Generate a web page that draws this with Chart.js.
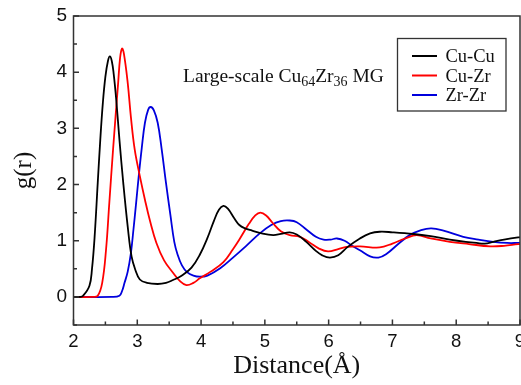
<!DOCTYPE html>
<html>
<head>
<meta charset="utf-8">
<script src="https://cdn.jsdelivr.net/npm/chart.js@4/dist/chart.umd.min.js"></script>
<style>
  html, body { margin: 0; padding: 0; background: #fff; }
  #wrap { width: 521px; height: 385px; }
</style>
</head>
<body>
<div id="wrap"><canvas id="rdf"></canvas></div>
<script>
// values
const cuCuR = [2.0, 2.1, 2.15, 2.25, 2.29, 2.33, 2.38, 2.42, 2.46, 2.50, 2.54, 2.57, 2.60, 2.63, 2.67, 2.72, 2.78, 2.85, 2.91, 2.97, 3.04, 3.15, 3.32, 3.45, 3.56, 3.7, 3.85, 3.98, 4.1, 4.2, 4.28, 4.35, 4.42, 4.52, 4.6, 4.69, 4.8, 4.95, 5.13, 5.25, 5.39, 5.5, 5.65, 5.8, 5.9, 6.02, 6.15, 6.3, 6.49, 6.65, 6.8, 7.0, 7.33, 7.6, 7.9, 8.15, 8.32, 8.45, 8.58, 8.75, 8.97, 9.0];
const cuCuG = [0, 0, 0.02, 0.2, 0.5, 1.05, 2.03, 2.8, 3.45, 3.92, 4.2, 4.28, 4.2, 3.97, 3.51, 2.8, 2.03, 1.25, 0.72, 0.48, 0.31, 0.25, 0.23, 0.25, 0.30, 0.38, 0.52, 0.75, 1.05, 1.35, 1.55, 1.62, 1.57, 1.40, 1.28, 1.22, 1.18, 1.13, 1.10, 1.12, 1.15, 1.11, 0.98, 0.82, 0.74, 0.70, 0.74, 0.89, 1.04, 1.13, 1.16, 1.15, 1.12, 1.08, 1.02, 0.98, 0.96, 0.95, 0.98, 1.02, 1.06, 1.06];

const cuZrR = [2.0, 2.3, 2.38, 2.45, 2.51, 2.56, 2.62, 2.70, 2.73, 2.76, 2.79, 2.85, 2.90, 2.96, 3.04, 3.12, 3.20, 3.30, 3.42, 3.56, 3.67, 3.77, 3.88, 3.98, 4.15, 4.35, 4.5, 4.61, 4.75, 4.85, 4.93, 5.02, 5.12, 5.25, 5.39, 5.55, 5.7, 5.85, 5.99, 6.15, 6.28, 6.49, 6.8, 7.0, 7.2, 7.38, 7.6, 7.9, 8.2, 8.53, 8.75, 8.97, 9.0];
const cuZrG = [0, 0, 0.02, 0.25, 0.84, 1.65, 2.62, 3.81, 4.25, 4.42, 4.33, 3.81, 3.2, 2.62, 2.15, 1.73, 1.35, 0.96, 0.65, 0.43, 0.28, 0.21, 0.25, 0.33, 0.45, 0.62, 0.85, 1.04, 1.30, 1.45, 1.50, 1.45, 1.32, 1.17, 1.10, 1.07, 0.97, 0.86, 0.81, 0.85, 0.89, 0.90, 0.88, 0.95, 1.04, 1.10, 1.04, 0.98, 0.94, 0.90, 0.91, 0.94, 0.94];

const zrZrR = [2.0, 2.6, 2.72, 2.76, 2.80, 2.85, 2.90, 2.94, 2.98, 3.02, 3.07, 3.12, 3.17, 3.21, 3.26, 3.32, 3.38, 3.45, 3.52, 3.58, 3.63, 3.70, 3.78, 3.88, 3.98, 4.1, 4.3, 4.5, 4.7, 4.92, 5.1, 5.25, 5.39, 5.5, 5.65, 5.8, 5.92, 6.03, 6.13, 6.25, 6.38, 6.49, 6.65, 6.78, 6.9, 7.1, 7.27, 7.45, 7.61, 7.8, 8.11, 8.35, 8.58, 8.8, 8.97, 9.0];
const zrZrG = [0, 0, 0.02, 0.1, 0.25, 0.45, 0.78, 1.2, 1.65, 2.12, 2.65, 3.10, 3.33, 3.38, 3.32, 3.10, 2.65, 2.03, 1.45, 0.98, 0.76, 0.56, 0.44, 0.38, 0.36, 0.38, 0.51, 0.70, 0.90, 1.13, 1.28, 1.35, 1.36, 1.33, 1.20, 1.07, 1.02, 1.02, 1.04, 1.00, 0.90, 0.83, 0.72, 0.70, 0.76, 0.95, 1.10, 1.19, 1.22, 1.18, 1.07, 1.02, 0.98, 0.96, 0.96, 0.96];

const seriesNames = ['Cu-Cu', 'Cu-Zr', 'Zr-Zr'];
const seriesColors = ['#000000', '#ff0000', '#0000dd'];
const xTicks = [2, 3, 4, 5, 6, 7, 8, 9];
const yTicks = [0, 1, 2, 3, 4, 5];

const pts = (r, g) => r.map((v, i) => ({ x: v, y: g[i] }));
const serif = "'Liberation Serif', 'DejaVu Serif', serif";
const sans = "'Liberation Sans', Arial, sans-serif";
const axisColor = '#333';

// frame, inward ticks, text note and legend
const decor = {
    id: 'decor',
    afterDraw(chart) {
        const { ctx, chartArea: a, scales: { x, y } } = chart;
        ctx.save();
        ctx.strokeStyle = axisColor;
        ctx.lineWidth = 1.5;
        ctx.strokeRect(a.left, a.top, a.right - a.left, a.bottom - a.top);
        ctx.beginPath();
        for (let v = 2; v <= 9.001; v += 0.5) {
            const px = x.getPixelForValue(v), len = Number.isInteger(v) ? 5.5 : 3.5;
            ctx.moveTo(px, a.bottom); ctx.lineTo(px, a.bottom - len);
        }
        for (let v = -0.5; v <= 5.001; v += 0.5) {
            const py = y.getPixelForValue(v), len = Number.isInteger(v) ? 5.5 : 3.5;
            ctx.moveTo(a.left, py); ctx.lineTo(a.left + len, py);
        }
        ctx.stroke();

        // Large-scale Cu64Zr36 MG
        ctx.fillStyle = '#111';
        ctx.textBaseline = 'alphabetic';
        let tx = 183;
        const by = 81.5;
        const parts = [['Large-scale Cu', 0], ['64', 1], ['Zr', 0], ['36', 1], [' MG', 0]];
        parts.forEach(([t, sub]) => {
            ctx.font = sub ? '14px ' + serif : '19.5px ' + serif;
            ctx.fillText(t, tx, sub ? by + 4 : by);
            tx += ctx.measureText(t).width;
        });

        // legend
        ctx.strokeStyle = axisColor;
        ctx.lineWidth = 1.3;
        ctx.strokeRect(397.5, 38.5, 108.5, 72.5);
        ctx.font = '18.5px ' + serif;
        seriesNames.forEach((n, i) => {
            const ly = 56 + i * 19.5;
            ctx.strokeStyle = seriesColors[i];
            ctx.lineWidth = 2;
            ctx.beginPath(); ctx.moveTo(412, ly); ctx.lineTo(437, ly); ctx.stroke();
            ctx.fillStyle = '#111';
            ctx.fillText(n, 445.5, ly + 6);
        });
        ctx.restore();
    }
};

new Chart(document.getElementById('rdf'), {
    type: 'line',
    data: {
        datasets: [
            { label: seriesNames[0], data: pts(cuCuR, cuCuG), borderColor: seriesColors[0] },
            { label: seriesNames[1], data: pts(cuZrR, cuZrG), borderColor: seriesColors[1] },
            { label: seriesNames[2], data: pts(zrZrR, zrZrG), borderColor: seriesColors[2] }
        ].map(d => Object.assign(d, { borderWidth: 1.8, pointRadius: 0, tension: 0.4, fill: false }))
    },
    options: {
        responsive: true,
        maintainAspectRatio: false,
        animation: false,
        events: [],
        layout: { padding: { top: 16, right: 1, left: 0, bottom: 0 } },
        plugins: { legend: { display: false }, tooltip: { enabled: false } },
        scales: {
            x: {
                type: 'linear', min: 2, max: 9,
                afterBuildTicks: s => { s.ticks = xTicks.map(v => ({ value: v })); },
                afterFit: s => { s.height = 60; s.paddingLeft = 0; s.paddingRight = 0; },
                grid: { display: false, drawTicks: false },
                border: { display: false },
                ticks: { color: '#111', padding: 6, font: { family: sans, size: 18.5 }, maxRotation: 0, autoSkip: false },
                title: { display: true, text: 'Distance(Å)', color: '#111', font: { family: serif, size: 26 }, padding: { top: 0, bottom: 3 } }
            },
            y: {
                min: -0.5, max: 5,
                afterBuildTicks: s => { s.ticks = yTicks.map(v => ({ value: v })); },
                afterFit: s => { s.width = 73.5; s.paddingTop = 0; s.paddingBottom = 0; },
                grid: { display: false, drawTicks: false },
                border: { display: false },
                ticks: { color: '#111', padding: 6.5, font: { family: sans, size: 19 } },
                title: { display: true, text: 'g(r)', color: '#111', font: { family: serif, size: 25 }, padding: { top: 9, bottom: 0 } }
            }
        }
    },
    plugins: [decor]
});
</script>
</body>
</html>
